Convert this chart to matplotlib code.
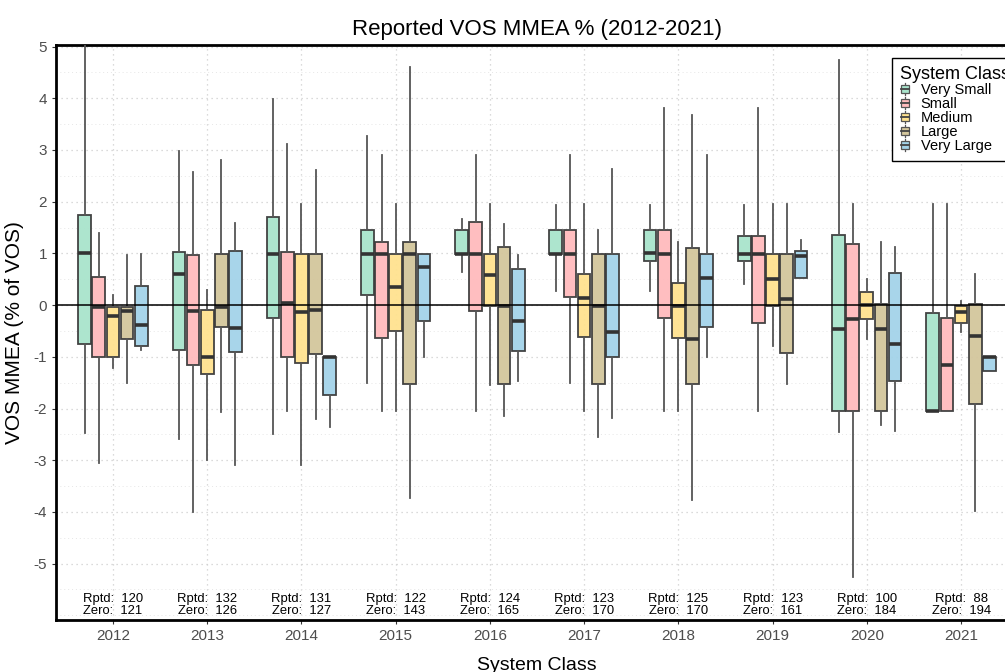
import matplotlib
matplotlib.use("Agg")
import matplotlib.pyplot as plt
from matplotlib.legend_handler import HandlerBase
from matplotlib.patches import Rectangle
from matplotlib.lines import Line2D
from matplotlib.ticker import MultipleLocator

plt.rcParams['font.family'] = ['Liberation Sans', 'DejaVu Sans']
plt.rcParams['axes.unicode_minus'] = False

years = ["2012", "2013", "2014", "2015", "2016", "2017", "2018", "2019", "2020", "2021"]
classes = ["Very Small", "Small", "Medium", "Large", "Very Large"]
colors = ["#A9E4CC", "#FFBBBD", "#FFE28F", "#D3C69C", "#A3D3E9"]

# five-number summaries per class, per year
vs_whislo = [-2.48, -2.59, -2.50, -1.51, 0.64, 0.28, 0.28, 0.40, -2.45, -2.04]
vs_q1 = [-0.76, -0.87, -0.25, 0.20, 0.98, 0.98, 0.86, 0.86, -2.04, -2.04]
vs_med = [1.00, 0.60, 0.98, 0.98, 0.98, 0.98, 1.01, 0.99, -0.46, -2.04]
vs_q3 = [1.75, 1.03, 1.71, 1.46, 1.46, 1.46, 1.46, 1.34, 1.35, -0.16]
vs_whishi = [5.20, 2.98, 3.98, 3.27, 1.66, 1.93, 1.93, 1.93, 4.74, 1.95]

sm_whislo = [-3.06, -4.00, -2.04, -2.04, -2.04, -1.51, -2.04, -2.04, -5.25, -2.04]
sm_q1 = [-1.01, -1.15, -1.01, -0.64, -0.11, 0.15, -0.25, -0.35, -2.04, -2.04]
sm_med = [-0.04, -0.11, 0.05, 0.98, 0.98, 0.98, 0.99, 0.98, -0.26, -1.15]
sm_q3 = [0.54, 0.97, 1.03, 1.22, 1.61, 1.46, 1.46, 1.34, 1.18, -0.25]
sm_whishi = [1.40, 2.58, 3.11, 2.90, 2.90, 2.90, 3.82, 3.82, 1.95, 1.95]

md_whislo = [-1.22, -3.00, -3.09, -2.04, -1.55, -2.04, -2.04, -0.79, -0.66, -0.52]
md_q1 = [-1.01, -1.34, -1.12, -0.50, -0.01, -0.62, -0.63, -0.01, -0.26, -0.34]
md_med = [-0.21, -1.01, -0.14, 0.35, 0.59, 0.14, -0.01, 0.50, 0.00, -0.13]
md_q3 = [-0.03, -0.09, 0.99, 0.99, 0.99, 0.60, 0.42, 0.98, 0.25, -0.01]
md_whishi = [0.19, 0.30, 1.95, 1.95, 1.95, 1.95, 1.22, 1.95, 0.50, 0.08]

lg_whislo = [-1.50, -2.06, -2.21, -3.74, -2.14, -2.56, -3.77, -1.53, -2.32, -3.98]
lg_q1 = [-0.66, -0.42, -0.95, -1.53, -1.53, -1.53, -1.53, -0.93, -2.04, -1.91]
lg_med = [-0.11, -0.03, -0.10, 0.98, -0.01, -0.02, -0.66, 0.12, -0.47, -0.60]
lg_q3 = [-0.03, 0.99, 0.98, 1.22, 1.13, 0.98, 1.11, 0.98, 0.02, 0.03]
lg_whishi = [0.97, 2.80, 2.61, 4.60, 1.56, 1.46, 3.68, 1.95, 1.22, 0.61]

vl_whislo = [-0.87, -3.09, -2.35, -1.01, -1.47, -2.19, -1.01, 0.52, -2.44, -1.27]
vl_q1 = [-0.80, -0.90, -1.74, -0.30, -0.88, -1.01, -0.42, 0.52, -1.46, -1.27]
vl_med = [-0.39, -0.45, -1.00, 0.73, -0.31, -0.52, 0.52, 0.95, -0.76, -1.00]
vl_q3 = [0.37, 1.04, -1.00, 0.98, 0.70, 0.98, 0.99, 1.04, 0.63, -1.00]
vl_whishi = [0.99, 1.58, -1.00, 0.98, 0.97, 2.64, 2.90, 1.26, 1.12, -1.00]

rptd = [120, 132, 131, 122, 124, 123, 125, 123, 100, 88]
zero = [121, 126, 127, 143, 165, 170, 170, 161, 184, 194]

summaries = [
    (vs_whislo, vs_q1, vs_med, vs_q3, vs_whishi),
    (sm_whislo, sm_q1, sm_med, sm_q3, sm_whishi),
    (md_whislo, md_q1, md_med, md_q3, md_whishi),
    (lg_whislo, lg_q1, lg_med, lg_q3, lg_whishi),
    (vl_whislo, vl_q1, vl_med, vl_q3, vl_whishi),
]

W, H = 1005, 672
fig = plt.figure(figsize=(W / 100, H / 100), dpi=100)
ax = fig.add_axes([56 / W, 1 - 620 / H, (1018 - 56) / W, (620 - 45) / H])

offsets = [-0.30, -0.15, 0.0, 0.15, 0.30]
box_w = 0.135
edge = "#3a3a3a"

for ci, (wl, q1, md, q3, wh) in enumerate(summaries):
    stats = []
    for yi in range(len(years)):
        stats.append(dict(whislo=wl[yi], q1=q1[yi], med=md[yi], q3=q3[yi],
                          whishi=wh[yi], fliers=[], label=years[yi]))
    pos = [yi + offsets[ci] for yi in range(len(years))]
    ax.bxp(stats, positions=pos, widths=box_w, patch_artist=True,
           showcaps=False, showfliers=False, manage_ticks=False,
           boxprops=dict(facecolor=colors[ci], edgecolor=edge, linewidth=1.3, alpha=0.95),
           whiskerprops=dict(color="#555555", linewidth=1.3),
           medianprops=dict(color="#333333", linewidth=2.6, solid_capstyle='butt'),
           zorder=3)

ax.axhline(0, color="black", linewidth=1.1, zorder=4)

ax.set_xlim(-0.604, len(years) - 1 + 0.604)
ax.set_ylim(-6.09, 5.03)
ax.set_xticks(range(len(years)))
ax.set_xticklabels(years)
ax.set_yticks(range(-5, 6))
ax.yaxis.set_minor_locator(MultipleLocator(0.5))
ax.grid(True, which='major', axis='both', color="#cfcfcf", linestyle=(0, (1, 3)), linewidth=0.9, zorder=0)
ax.grid(True, which='minor', axis='y', color="#e6e6e6", linestyle=(0, (1, 3)), linewidth=0.7, zorder=0)
ax.set_axisbelow(True)
ax.tick_params(axis='both', which='major', labelsize=11, labelcolor="#4d4d4d",
               color="#333333", length=3, width=0.8)
ax.tick_params(axis='y', which='minor', length=0)
for s in ax.spines.values():
    s.set_linewidth(2.0)
    s.set_color("black")

for yi in range(len(years)):
    ax.text(yi, -5.80, f"Rptd:  {rptd[yi]}\nZero:  {zero[yi]}", ha='center', va='center',
            fontsize=9.4, color="black", linespacing=1.1, zorder=5)

ax.set_title("Reported VOS MMEA % (2012-2021)", fontsize=16, pad=7)
ax.set_ylabel("VOS MMEA (% of VOS)", fontsize=15, labelpad=7)
ax.set_xlabel("System Class", fontsize=14, labelpad=10)


class BoxHandler(HandlerBase):
    def create_artists(self, legend, orig_handle, xdescent, ydescent, width, height, fontsize, trans):
        cx = width / 2 - xdescent
        bw = width * 0.9
        r = Rectangle((cx - bw / 2, -ydescent + height * 0.15), bw, height * 0.7,
                      facecolor=orig_handle.get_facecolor(), edgecolor="#555555",
                      linewidth=0.9, transform=trans)
        ln = Line2D([cx, cx], [-ydescent - height * 0.05, -ydescent + height * 1.05],
                    color="#555555", linewidth=0.9, transform=trans)
        md = Line2D([cx - bw / 2, cx + bw / 2], [-ydescent + height * 0.5] * 2,
                    color="#444444", linewidth=1.3, transform=trans)
        return [ln, r, md]


handles = [Rectangle((0, 0), 1, 1, facecolor=c) for c in colors]
leg = fig.legend(handles, classes, handler_map={Rectangle: BoxHandler()},
                 loc='upper left', bbox_to_anchor=(885 / W, 1 - 51 / H),
                 title="System Class", fontsize=10.5, title_fontsize=13,
                 handlelength=0.6, handleheight=0.8, handletextpad=0.8,
                 labelspacing=0.0, borderpad=0.55, fancybox=False,
                 edgecolor="black", framealpha=1, alignment='left')
leg.get_frame().set_linewidth(1.0)

fig.savefig("out.png", dpi=100)
